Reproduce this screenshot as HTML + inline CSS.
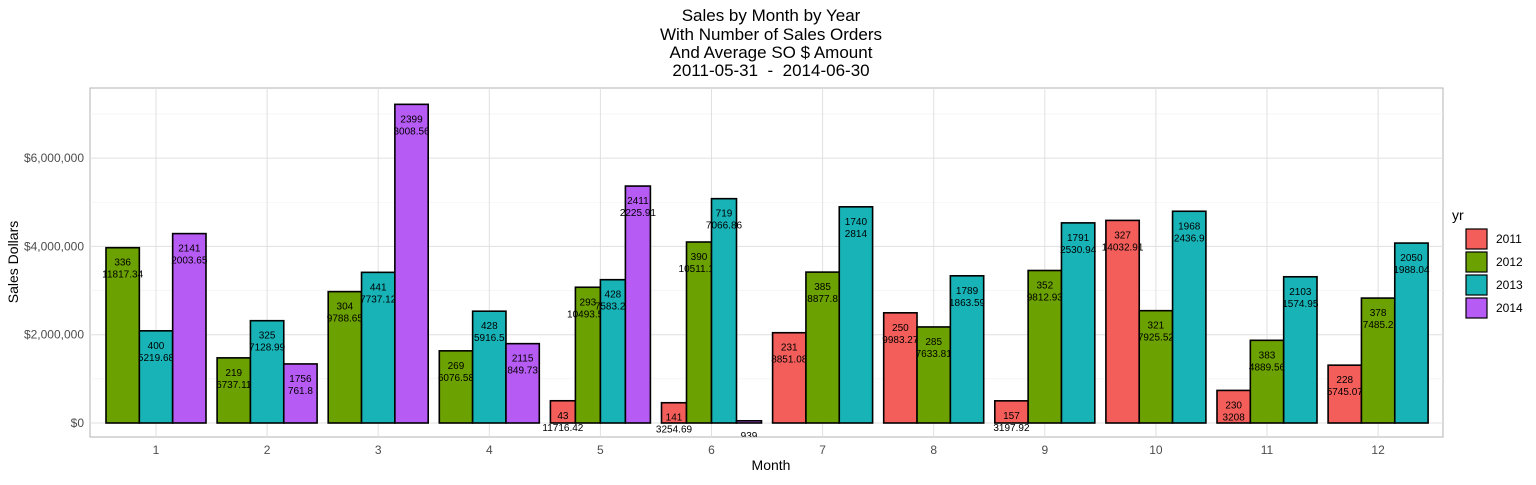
<!DOCTYPE html>
<html><head><meta charset="utf-8"><style>
body{margin:0;background:#fff;font-family:"Liberation Sans",sans-serif}
svg text{font-family:"Liberation Sans",sans-serif}
</style></head><body>
<svg id="c" width="1536" height="480">
<defs><clipPath id="pc"><rect x="90" y="88" width="1353" height="349"/></clipPath></defs>
<g font-size="17" text-anchor="middle" fill="#000">
<text x="771" y="21">Sales by Month by Year</text>
<text x="771" y="40">With Number of Sales Orders</text>
<text x="771" y="58">And Average SO $ Amount</text>
<text x="771" y="76" style="white-space:pre">2011-05-31  -  2014-06-30</text>
</g>
<rect x="90" y="88" width="1353" height="349" fill="#fff" stroke="#b3b3b3"/>
<g id="grid"></g>
<g id="bars" clip-path="url(#pc)"></g>
<g id="axes"></g>
<text x="18" y="262" font-size="14" text-anchor="middle" transform="rotate(-90 18 262)">Sales Dollars</text>
<text x="771" y="470" font-size="14" text-anchor="middle">Month</text>
<g id="legend"></g>
</svg>
<script>
const months=[1,2,3,4,5,6,7,8,9,10,11,12];
const years=["2011","2012","2013","2014"];
// orders and average SO amount per [year][month]; null = no data
const orders2011=[null,null,null,null,43,141,231,250,157,327,230,228];
const avg2011=[null,null,null,null,11716.42,3254.69,8851.08,9983.27,3197.92,14032.91,3208,5745.07];
const orders2012=[336,219,304,269,293,390,385,285,352,321,383,378];
const avg2012=[11817.34,6737.11,9788.65,6076.58,10493.52,10511.17,8877.8,7633.81,9812.93,7925.52,4889.56,7485.2];
const orders2013=[400,325,441,428,428,719,1740,1789,1791,1968,2103,2050];
const avg2013=[5219.68,7128.99,7737.12,5916.5,7583.23,7066.86,2814,1863.59,2530.94,2436.9,1574.95,1988.04];
const orders2014=[2141,1756,2399,2115,2411,939,null,null,null,null,null,null];
const avg2014=[2003.65,761.8,3008.56,849.73,2225.91,53.2,null,null,null,null,null,null];
const yTicks=[0,2000000,4000000,6000000];
const yTickLabels=["$0","$2,000,000","$4,000,000","$6,000,000"];
const colors=["#f35e5a","#6ba100","#17b3b7","#b75bf5"];
const ordersAll=[orders2011,orders2012,orders2013,orders2014];
const avgAll=[avg2011,avg2012,avg2013,avg2014];
const NS="http://www.w3.org/2000/svg";
const y=v=>423-v/2000000*88.3;
const xc=m=>156+(m-1)*111.1;
function mk(t,a,p){const e=document.createElementNS(NS,t);for(const k in a)e.setAttribute(k,a[k]);p.appendChild(e);return e;}
const grid=document.getElementById('grid'),bars=document.getElementById('bars'),axes=document.getElementById('axes'),leg=document.getElementById('legend');
[1000000,3000000,5000000,7000000].forEach(v=>{const l=mk('line',{x1:90,x2:1443,y1:y(v),y2:y(v),stroke:'#f0f0f0','stroke-width':0.6},grid);

});
yTicks.forEach((v,i)=>{const l=mk('line',{x1:90,x2:1443,y1:y(v),y2:y(v),stroke:'#e0e0e0','stroke-width':1},grid);


const t=mk('text',{x:84,y:y(v)+4,'font-size':12,'text-anchor':'end',fill:'#4d4d4d'},axes);t.textContent=yTickLabels[i];

});
months.forEach((m,mi)=>{const l=mk('line',{x1:xc(m),x2:xc(m),y1:88,y2:437,stroke:'#e0e0e0','stroke-width':1},grid);


const t=mk('text',{x:xc(m),y:454,'font-size':12,'text-anchor':'middle',fill:'#4d4d4d'},axes);t.textContent=m;


const present=[];years.forEach((yr,yi)=>{if(ordersAll[yi][mi]!=null)present.push(yi);});
const gw=100,bw=gw/present.length;
present.forEach((yi,k)=>{const o=ordersAll[yi][mi],a=avgAll[yi][mi],v=o*a;
const x0=xc(m)-gw/2+k*bw;
const r=mk('rect',{x:x0,y:y(v),width:bw,height:423-y(v),fill:colors[yi],stroke:'#000','stroke-width':1.6},bars);


const t1=mk('text',{x:x0+bw/2,y:y(v)+18,'font-size':10,'text-anchor':'middle'},bars);t1.textContent=o;


const t2=mk('text',{x:x0+bw/2,y:y(v)+30,'font-size':10,'text-anchor':'middle'},bars);t2.textContent=a;

});});
const lt=mk('text',{x:1452,y:220,'font-size':14},leg);lt.textContent='yr';


years.forEach((yr,i)=>{const g=mk('g',{},leg);


mk('rect',{x:1466,y:229+i*23,width:21,height:20,fill:colors[i],stroke:'#000','stroke-width':1.2},g);
const t=mk('text',{x:1496,y:243+i*23,'font-size':12},g);t.textContent=yr;});
</script>
</body></html>
